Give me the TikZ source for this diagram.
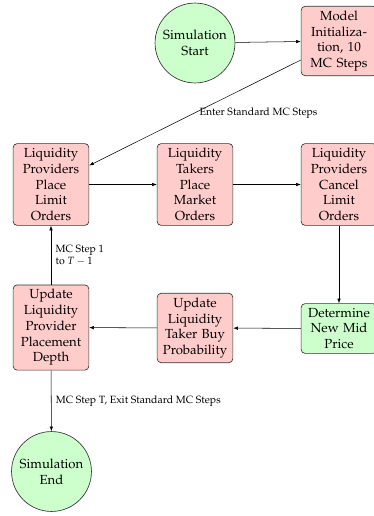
\documentclass[tikz,border=0pt]{standalone}
\usepackage[T1]{fontenc}
\usepackage{mathpazo}
\usetikzlibrary{arrows.meta}
\tikzset{
  boxbase/.style={draw=black!80, rounded corners=3pt, align=center, text width=1.72cm, inner xsep=4.3pt, line width=0.5pt},
  boxred/.style={boxbase, fill=red!20},
  boxgreen/.style={boxbase, fill=green!20},
  circgreen/.style={draw=black!80, fill=green!20, circle, align=center, line width=0.5pt},
  arr/.style={-{Latex[length=3.5pt,width=2.6pt]}, line width=0.4pt},
  lbl/.style={font=\footnotesize, align=left}
}
\begin{document}
\begin{tikzpicture}[x=0.76pt, y=-0.76pt]
\useasboundingbox (0,0) rectangle (373,516);
\node[circgreen] (start) at (195,43) {Simulation\\Start};
\node[boxred] (init) at (339,41) {Model Initialization, 10 MC Steps};
\node[boxred] (lpplace) at (51,184.5) {Liquidity Providers Place Limit Orders};
\node[boxred] (ltplace) at (195,184.5) {Liquidity Takers Place Market Orders};
\node[boxred] (lpcancel) at (339,184.5) {Liquidity Providers Cancel Limit Orders};
\node[boxgreen] (mid) at (339,328.5) {Determine New Mid Price};
\node[boxred] (ltprob) at (195,328) {Update Liquidity Taker Buy Probability};
\node[boxred] (depth) at (51,327.5) {Update Liquidity Provider Placement Depth};
\node[circgreen] (end) at (51.5,471.5) {Simulation\\End};
\draw[arr] (start) -- (init);
\draw[arr] (init) -- node[midway, right, lbl] (l1) {Enter Standard MC Steps} (lpplace);
\draw[arr] (lpplace) -- (ltplace);
\draw[arr] (ltplace) -- (lpcancel);
\draw[arr] (lpcancel) -- (mid);
\draw[arr] (mid) -- (ltprob);
\draw[arr] (ltprob) -- (depth);
\draw[arr] (depth) -- node[midway, right, lbl] (l2) {MC Step 1\\to $T-1$} (lpplace);
\draw[arr] (depth) -- node[midway, right, lbl] (l3) {MC Step T, Exit Standard MC Steps} (end);
\end{tikzpicture}
\end{document}
